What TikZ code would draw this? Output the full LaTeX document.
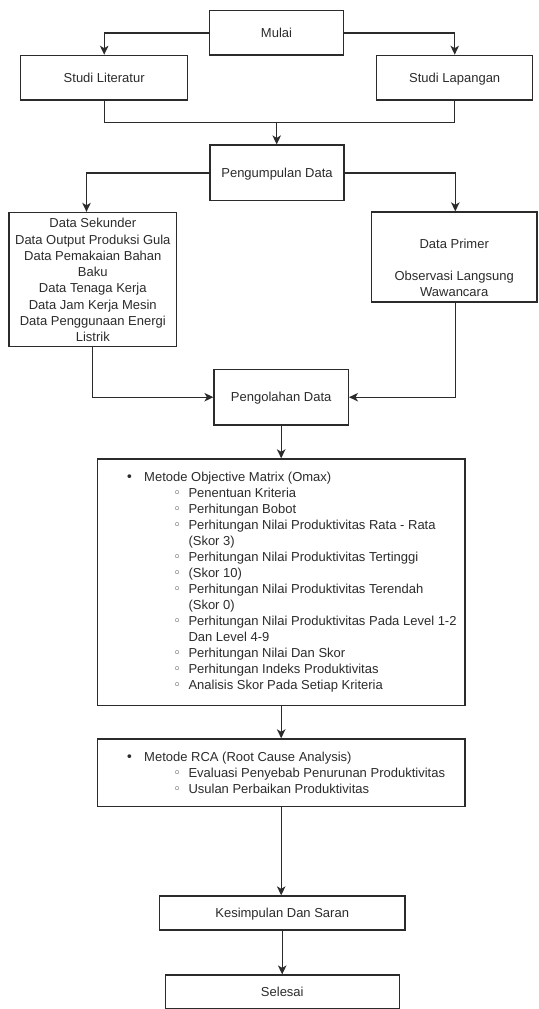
\documentclass[tikz,border=0pt]{standalone}
\usepackage{fontspec}
\setmainfont{Liberation Sans}
\newfontfamily\symfont{DejaVu Sans}
\usetikzlibrary{arrows.meta}
\definecolor{ink}{HTML}{2B2B2B}
\newcommand\lA[1]{\hspace*{32pt}\makebox[0pt]{\symfont\fontsize{13}{13}\selectfont •}\hspace*{14.7pt}#1\par}
\newcommand\lB[1]{\hspace*{79.7pt}\makebox[0pt]{\symfont\fontsize{13}{13}\selectfont ◦}\hspace*{11.3pt}#1\par}
\newcommand\lC[1]{\hspace*{91pt}#1\par}
\begin{document}
\begin{tikzpicture}[x=1pt,y=-1pt,
  font=\fontsize{13}{16}\selectfont,
  box/.style={draw=ink, line width=1.3pt, inner sep=0pt, text=ink},
  one/.style={box, text height=11.7pt, text depth=2.3pt},
  txt/.style={inner sep=0pt, text=ink, anchor=base},
  arr/.style={draw=ink, line width=1.3pt, -{Stealth[length=9pt,width=8.5pt,inset=2.5pt]}},
  ln/.style={draw=ink, line width=1.3pt}]
\useasboundingbox (0,0) rectangle (538,1009);

\node[one, minimum width=134pt, minimum height=44.3pt] (mulai) at (276.5,32.9) {Mulai};
\node[one, minimum width=167pt, minimum height=44.7pt] (studilit) at (104.2,77.7) {Studi Literatur};
\node[one, minimum width=156pt, minimum height=44.7pt] (studilap) at (454.7,77.7) {Studi Lapangan};
\node[one, minimum width=134pt, minimum height=55.7pt] (kumpul) at (277,172.9) {Pengumpulan Data};

\node[box, minimum width=167.7pt, minimum height=134.2pt] (sekunder) at (92.8,279.6) {};
\node[txt] (sekundertext) at (92.8,227.7) {\parbox[t]{170pt}{\centering\fontsize{13}{16.3}\selectfont
Data Sekunder\\
Data Output Produksi Gula\\
Data Pemakaian Bahan\\
Baku\\
Data Tenaga Kerja\\
Data Jam Kerja Mesin\\
Data Penggunaan Energi\\
Listrik}};

\node[box, minimum width=165.7pt, minimum height=90pt] (primer) at (454.2,257) {};
\node[txt] (primertext) at (454.2,248) {\parbox[t]{165pt}{\centering\fontsize{13}{16.3}\selectfont
Data Primer\\[16.3pt]
Observasi Langsung\\
Wawancara}};

\node[one, minimum width=134.3pt, minimum height=55.7pt] (pengolahan) at (281.2,397.2) {Pengolahan Data};

\node[box, minimum width=367.7pt, minimum height=246.7pt] (omax) at (281.2,582.3) {};
\node[txt, anchor=base west] (omaxtext) at (97.3,481.7) {\parbox[t]{400pt}{\fontsize{13}{16}\selectfont
\lA{Metode Objective Matrix (Omax)}
\lB{Penentuan Kriteria}
\lB{Perhitungan Bobot}
\lB{Perhitungan Nilai Produktivitas Rata - Rata}
\lC{(Skor 3)}
\lB{Perhitungan Nilai Produktivitas Tertinggi}
\lB{(Skor 10)}
\lB{Perhitungan Nilai Produktivitas Terendah}
\lC{(Skor 0)}
\lB{Perhitungan Nilai Produktivitas Pada Level 1-2}
\lC{Dan Level 4-9}
\lB{Perhitungan Nilai Dan Skor}
\lB{Perhitungan Indeks Produktivitas}
\lB{Analisis Skor Pada Setiap Kriteria}}};

\node[box, minimum width=367.7pt, minimum height=67.7pt] (rca) at (281.2,772.8) {};
\node[txt, anchor=base west] (rcatext) at (97.3,761.7) {\parbox[t]{400pt}{\fontsize{13}{16}\selectfont
\lA{Metode RCA (Root Cause Analysis)}
\lB{Evaluasi Penyebab Penurunan Produktivitas}
\lB{Usulan Perbaikan Produktivitas}}};

\node[one, minimum width=245.7pt, minimum height=34pt] (kesimpulan) at (282.2,913) {Kesimpulan Dan Saran};
\node[one, minimum width=234pt, minimum height=33.3pt] (selesai) at (282.3,991.7) {Selesai};

\draw[arr] (mulai.west) -| (studilit.north);
\draw[arr] (mulai.east) -| (studilap.north);
\coordinate (merge) at (276.7,122.7);
\draw[ln] (studilit.south) |- (merge) -| (studilap.south);
\draw[arr] (merge) -- (merge |- kumpul.north);
\draw[arr] (kumpul.west) -| ([xshift=-6.3pt]sekunder.north);
\draw[arr] (kumpul.east) -| ([xshift=1.1pt]primer.north);
\draw[arr] (sekunder.south) |- (pengolahan.west);
\draw[arr] ([xshift=1.1pt]primer.south) |- (pengolahan.east);
\draw[arr] (pengolahan.south) -- (omax.north);
\draw[arr] (omax.south) -- (rca.north);
\draw[arr] (rca.south) -- (rca.south |- kesimpulan.north);
\draw[arr] (kesimpulan.south) -- (kesimpulan.south |- selesai.north);
\end{tikzpicture}
\end{document}
